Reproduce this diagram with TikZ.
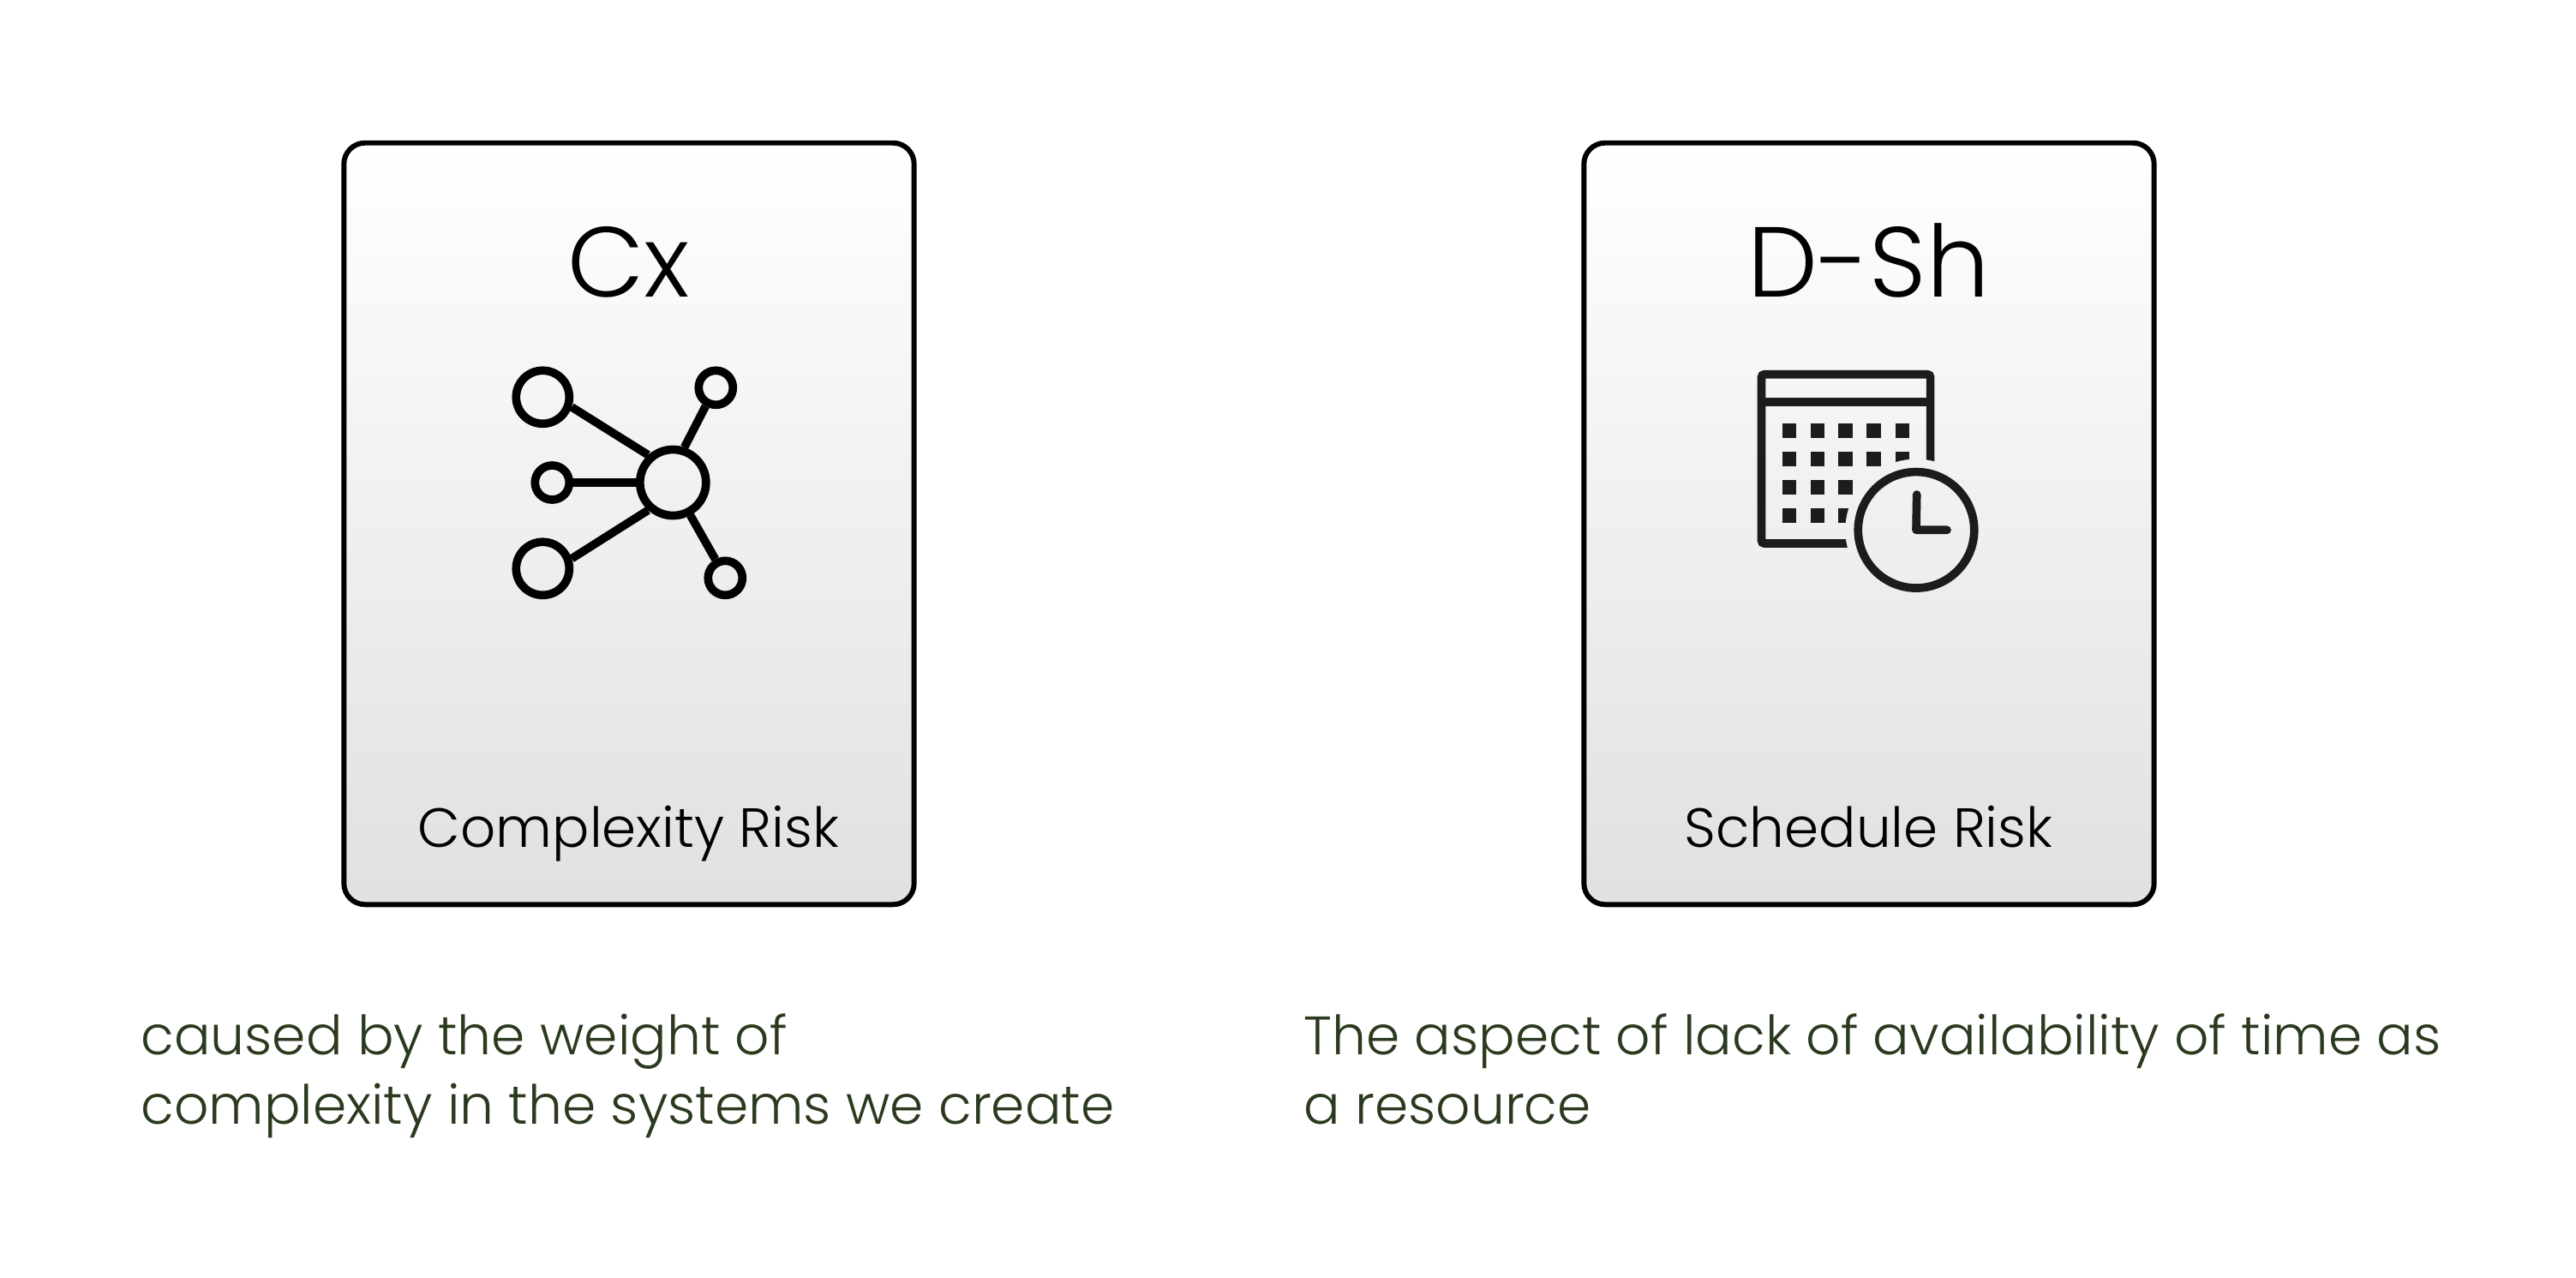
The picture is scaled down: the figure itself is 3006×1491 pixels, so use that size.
\documentclass[tikz,border=0pt]{standalone}
\usepackage{fontspec}
\setmainfont{Poppins Light}
\definecolor{capolive}{HTML}{2B3A1E}
\definecolor{iconink}{HTML}{1C1C1E}
\tikzset{
  riskcard/.style={draw=black,line width=1.7pt,rounded corners=7pt,top color=white,bottom color=black!12,minimum width=6.65cm,minimum height=8.88cm},
  hub/.style={circle,draw=black,line width=2.75pt,inner sep=0pt,minimum size=#1},
  link/.style={draw=black,line width=2.75pt},
  caption/.style={anchor=base west,align=left,text=capolive,font=\fontsize{17.95}{22.8}\selectfont}
}
\begin{document}
\begin{tikzpicture}[x=0.01cm,y=-0.01cm]
\useasboundingbox (0,0) rectangle (3006,1491);
\node[riskcard] (cardcx) at (734,611) {};
\node[riskcard] (cardsh) at (2181,611) {};
\node[font=\fontsize{33}{40}\selectfont,anchor=base] (titlecx) at (733.5,347) {Cx};
\node[font=\fontsize{33}{40}\selectfont,anchor=base] (titlesh) at (2180.5,347) {D-Sh};
\node[font=\fontsize{18.3}{22}\selectfont,anchor=base] (labelcx) at (733.5,988) {Complexity Risk};
\node[font=\fontsize{18.3}{22}\selectfont,anchor=base] (labelsh) at (2180.5,988) {Schedule Risk};
\node[caption] (textcx) at (152,1311) {caused by the weight of\\complexity in the systems we create};
\node[caption] (textsh) at (1509,1311) {The aspect of lack of availability of time as\\a resource};
% network icon
\node[hub=0.77cm] (centre) at (785.3,563) {};
\node[hub=0.62cm] (bigtop) at (633.3,463.3) {};
\node[hub=0.62cm] (bigbot) at (633.3,663.3) {};
\node[hub=0.4cm] (leaf) at (644.3,563) {};
\node[hub=0.4cm] (righttop) at (835.3,452.3) {};
\node[hub=0.4cm] (rightbot) at (846.3,674.3) {};
\foreach \a/\n/\b in {132/bigtop/-19,228/bigbot/19,180/leaf/0,72/righttop/241,-62/rightbot/118} {\draw[link] (centre.\a) -- (\n.\b);}
% calendar icon, cut away around the clock
\begin{scope}[even odd rule]
\clip (2000,400) rectangle (2300,700) (2236,618.3) circle (82.8);
\draw[iconink,line width=2.75pt,rounded corners=1pt] (2055.4,436.7) rectangle (2252.6,634);
\draw[iconink,line width=2.75pt] (2055.4,469.3) -- (2252.6,469.3);
\foreach \x in {2079.7,2112.7,2145.3,2178.3,2211.7} {\foreach \y in {494.3,527.3,560.3,593.3} {\fill[iconink] (\x,\y) rectangle ++(16.3,16.3);}}
\end{scope}
\node[circle,draw=iconink,line width=2.75pt,inner sep=0pt,minimum size=1.354cm] (clock) at (2236,618.3) {};
\draw[iconink,line width=2.75pt,line cap=round,line join=round] (2236.7,577) -- (clock.center) -- ++(36,0);
\end{tikzpicture}
\end{document}
